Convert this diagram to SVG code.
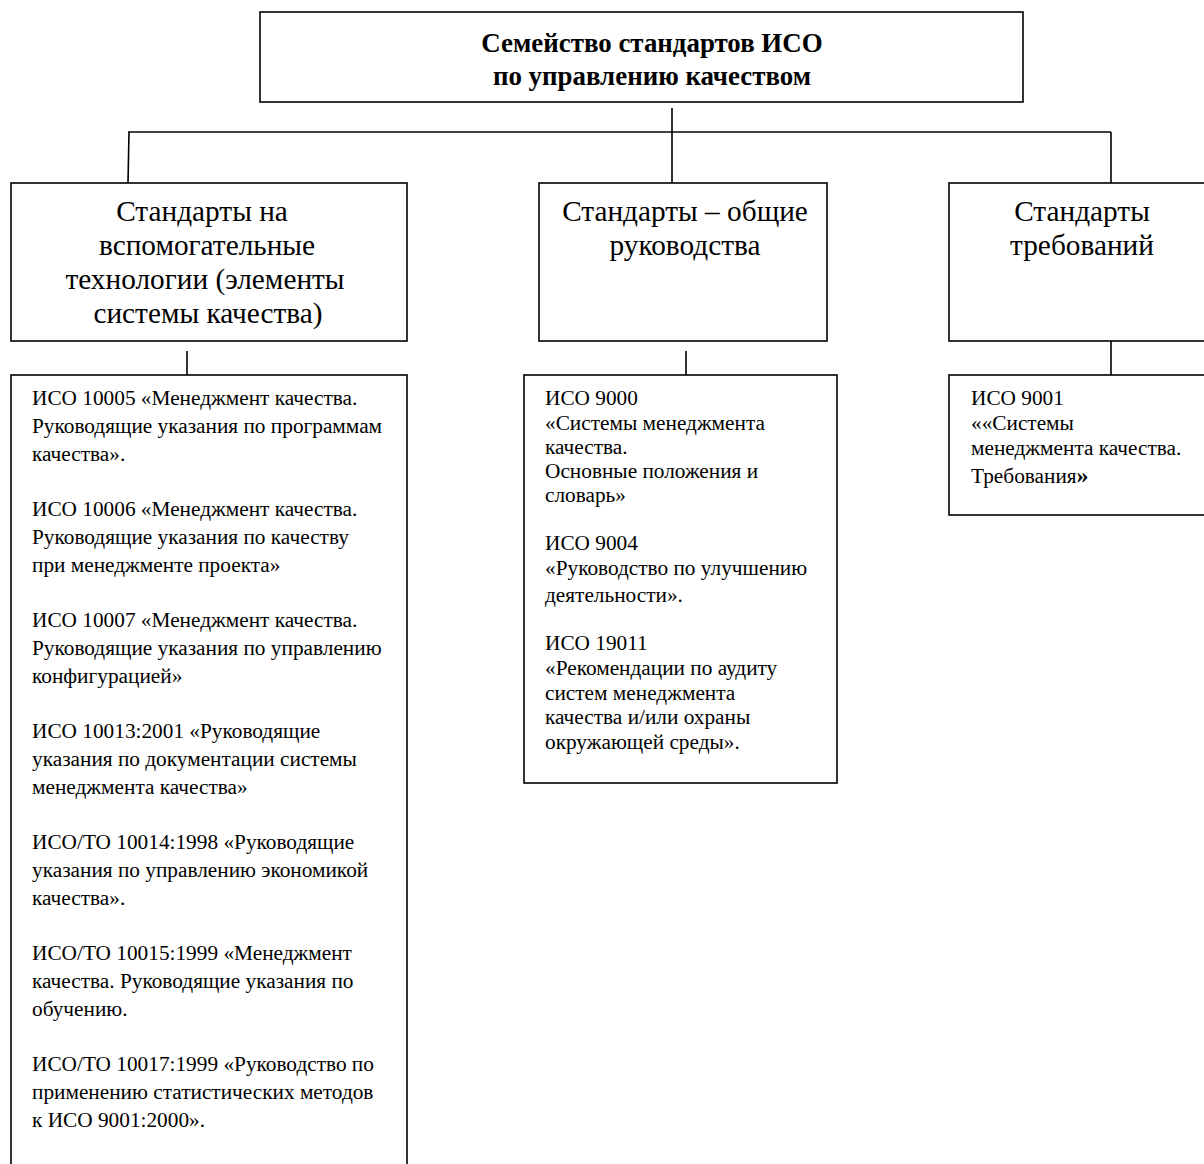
<svg xmlns="http://www.w3.org/2000/svg" width="1204" height="1164" viewBox="0 0 1204 1164">
<style>
.box{fill:#fff;stroke:#000;stroke-width:1.6}
.ln{fill:none;stroke:#000;stroke-width:1.6}
text{font-family:"Liberation Serif","Times New Roman",serif;fill:#000}
.title{font-size:26.9px;font-weight:bold;text-anchor:middle}
.cat{font-size:29.3px;text-anchor:middle}
.item{font-size:21.3px}
</style>
<rect width="1204" height="1164" fill="#fff"/>
<g id="connectors">
<line class="ln" x1="672" y1="108" x2="672" y2="183"/>
<line class="ln" x1="128" y1="132" x2="1111" y2="132"/>
<line class="ln" x1="129" y1="132" x2="128" y2="183"/>
<line class="ln" x1="1111" y1="132" x2="1111" y2="183"/>
<line class="ln" x1="187" y1="351" x2="187" y2="375"/>
<line class="ln" x1="686" y1="351" x2="686" y2="375"/>
<line class="ln" x1="1111" y1="341" x2="1111" y2="375"/>
</g>
<g id="root">
<rect class="box" x="260" y="12" width="763" height="90"/>
<text class="title" x="652" y="52">Семейство стандартов ИСО</text>
<text class="title" x="652" y="85">по управлению качеством</text>
</g>
<g id="cat-support">
<rect class="box" x="11" y="183" width="396" height="158"/>
<text class="cat" x="202" y="221">Стандарты на</text>
<text class="cat" x="207" y="255">вспомогательные</text>
<text class="cat" x="205" y="289">технологии (элементы</text>
<text class="cat" x="208" y="323">системы качества)</text>
</g>
<g id="cat-general">
<rect class="box" x="539" y="183" width="288" height="158"/>
<text class="cat" x="685" y="221">Стандарты – общие</text>
<text class="cat" x="685" y="255">руководства</text>
</g>
<g id="cat-req">
<rect class="box" x="949" y="183" width="266" height="158"/>
<text class="cat" x="1082" y="221">Стандарты</text>
<text class="cat" x="1082" y="255">требований</text>
</g>
<g id="list-support">
<rect class="box" x="11" y="375" width="396" height="800"/>
<text class="item">
<tspan x="32" y="405">ИСО 10005 «Менеджмент качества.</tspan>
<tspan x="32" y="433">Руководящие указания по программам</tspan>
<tspan x="32" y="461">качества».</tspan>
<tspan x="32" y="516">ИСО 10006 «Менеджмент качества.</tspan>
<tspan x="32" y="544">Руководящие указания по качеству</tspan>
<tspan x="32" y="572">при менеджменте проекта»</tspan>
<tspan x="32" y="627">ИСО 10007 «Менеджмент качества.</tspan>
<tspan x="32" y="655">Руководящие указания по управлению</tspan>
<tspan x="32" y="683">конфигурацией»</tspan>
<tspan x="32" y="738">ИСО 10013:2001 «Руководящие</tspan>
<tspan x="32" y="766">указания по документации системы</tspan>
<tspan x="32" y="794">менеджмента качества»</tspan>
<tspan x="32" y="849">ИСО/ТО 10014:1998 «Руководящие</tspan>
<tspan x="32" y="877">указания по управлению экономикой</tspan>
<tspan x="32" y="905">качества».</tspan>
<tspan x="32" y="960">ИСО/ТО 10015:1999 «Менеджмент</tspan>
<tspan x="32" y="988">качества. Руководящие указания по</tspan>
<tspan x="32" y="1016">обучению.</tspan>
<tspan x="32" y="1071">ИСО/ТО 10017:1999 «Руководство по</tspan>
<tspan x="32" y="1099">применению статистических методов</tspan>
<tspan x="32" y="1127">к ИСО 9001:2000».</tspan>
</text>
</g>
<g id="list-general">
<rect class="box" x="524" y="375" width="313" height="408"/>
<text class="item">
<tspan x="545" y="405">ИСО 9000</tspan>
<tspan x="545" y="430">«Системы менеджмента</tspan>
<tspan x="545" y="454">качества.</tspan>
<tspan x="545" y="478">Основные положения и</tspan>
<tspan x="545" y="502">словарь»</tspan>
<tspan x="545" y="550">ИСО 9004</tspan>
<tspan x="545" y="575">«Руководство по улучшению</tspan>
<tspan x="545" y="602">деятельности».</tspan>
<tspan x="545" y="650">ИСО 19011</tspan>
<tspan x="545" y="675">«Рекомендации по аудиту</tspan>
<tspan x="545" y="700">систем менеджмента</tspan>
<tspan x="545" y="724">качества и/или охраны</tspan>
<tspan x="545" y="749">окружающей среды».</tspan>
</text>
</g>
<g id="list-req">
<rect class="box" x="949" y="375" width="266" height="140"/>
<text class="item">
<tspan x="971" y="405">ИСО 9001</tspan>
<tspan x="971" y="430">««Системы</tspan>
<tspan x="971" y="455">менеджмента качества.</tspan>
<tspan x="971" y="483">Требования<tspan font-weight="bold" font-size="24px">»</tspan></tspan>
</text>
</g>
</svg>
